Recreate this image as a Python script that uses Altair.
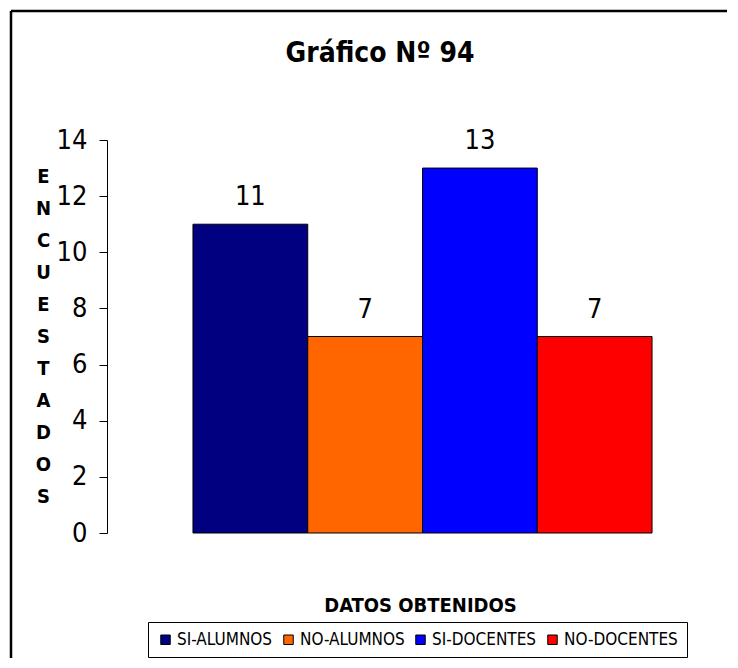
import altair as alt
import pandas as pd

categories = ["SI-ALUMNOS", "NO-ALUMNOS", "SI-DOCENTES", "NO-DOCENTES"]
values = [11, 7, 13, 7]
colors = ["#000080", "#FF6600", "#0000FF", "#FF0000"]
y_ticks = [0, 2, 4, 6, 8, 10, 12, 14]
y_title_letters = list("ENCUESTADOS")

df = pd.DataFrame({"cat": categories, "val": values})
frame_df = pd.DataFrame({"a": [0]})

FONT = "Liberation Sans Narrow, DejaVu Sans Condensed, Liberation Sans, Arial, sans-serif"
W, H = 600, 393

x = alt.X(
    "cat:N", sort=categories,
    scale=alt.Scale(paddingInner=0, paddingOuter=0.614, align=0.61),
    axis=alt.Axis(title="DATOS OBTENIDOS", labels=False, ticks=False, domain=False, grid=False,
                  titleFont=FONT, titleFontSize=20, titleFontWeight="bold", titleColor="black",
                  titleX=313, titleY=72, titleBaseline="middle", titleAlign="center"),
)
y = alt.Y(
    "val:Q",
    scale=alt.Scale(domain=[0, 14], nice=False),
    axis=alt.Axis(values=y_ticks, title=y_title_letters, titleAngle=0, titleFont=FONT,
                  titleFontSize=20, titleFontWeight="bold", titleLineHeight=32, titleColor="black",
                  titleX=-64, titleY=36, titleAlign="center", titleBaseline="middle",
                  grid=False, tickSize=8, tickColor="black", domainColor="black",
                  labelFontSize=27, labelPadding=12, labelFont=FONT, labelColor="black"),
)

bars = alt.Chart(df).mark_bar(stroke="black", strokeWidth=1, opacity=1).encode(
    x=x, y=y,
    color=alt.Color("cat:N", sort=categories,
                    scale=alt.Scale(domain=categories, range=colors),
                    legend=alt.Legend(orient="none", legendX=41, legendY=482, direction="horizontal",
                                      title=None, symbolType="square", symbolSize=90,
                                      symbolStrokeColor="black", symbolStrokeWidth=1, symbolOpacity=1,
                                      labelFont=FONT, labelFontSize=17, labelColor="black",
                                      labelOffset=3, columnPadding=7, padding=9,
                                      strokeColor="black", fillColor="white")),
)

labels = alt.Chart(df).mark_text(dy=-19, baseline="alphabetic", fontSize=27, font=FONT, color="black").encode(
    x=x, y=y, text="val:Q"
)

left_frame = alt.Chart(frame_df).mark_rule(color="black", strokeWidth=2.5).encode(
    x=alt.value(-96), y=alt.value(-129), y2=alt.value(520)
)
top_frame = alt.Chart(frame_df).mark_rule(color="black", strokeWidth=2.5).encode(
    x=alt.value(-96), x2=alt.value(620), y=alt.value(-129)
)

chart = alt.layer(left_frame, top_frame, bars, labels).properties(
    width=W, height=H,
    title=alt.TitleParams("Gráfico Nº 94", font=FONT, fontSize=28, fontWeight="bold", color="black",
                          anchor="middle", frame="group", dx=-27, offset=-58),
    autosize=alt.AutoSizeParams(type="none"),
    padding={"left": 99, "top": 132, "right": 23, "bottom": 125},
).configure(background="white").configure_view(strokeWidth=0)

chart.save("out.html", embed_options={"renderer": "svg", "actions": False})
